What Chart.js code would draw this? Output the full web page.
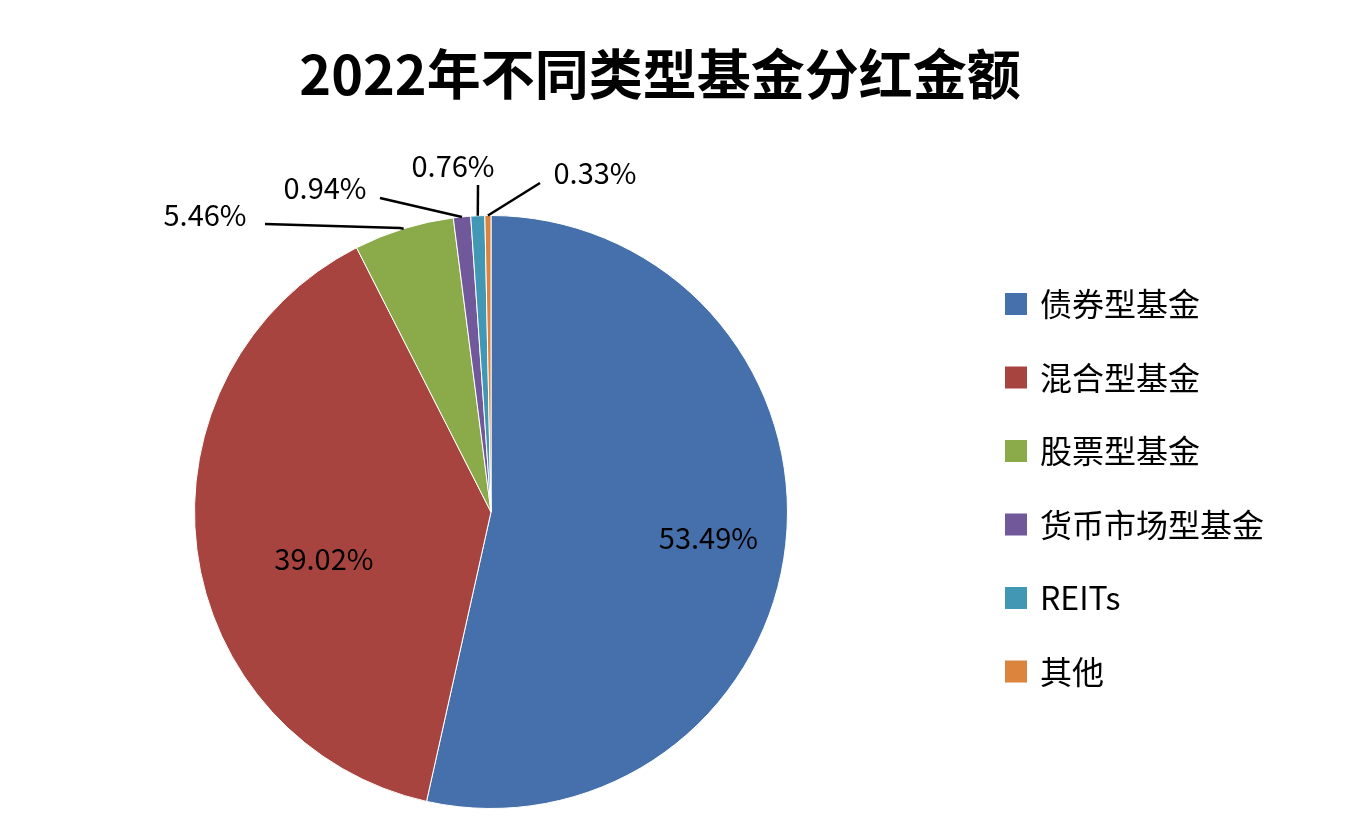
<!DOCTYPE html>
<html lang="zh">
<head>
<meta charset="UTF-8">
<title>2022年不同类型基金分红金额</title>
<script src="https://cdn.jsdelivr.net/npm/chart.js"></script>
<style>
  body { margin: 0; background: #fff; }
</style>
</head>
<body>
<canvas id="pie" width="1348" height="832"></canvas>
<script>
const categories = ['债券型基金', '混合型基金', '股票型基金', '货币市场型基金', 'REITs', '其他'];
const shares = [53.49, 39.02, 5.46, 0.94, 0.76, 0.33];
const colors = ['#4570AB', '#A8443F', '#8BAA4A', '#71589A', '#4298B4', '#DB843D'];

// where the outside labels sit (small slices only)
const outsideLabels = {
  2: { x: 205, y: 215, align: 'center' },
  3: { x: 325, y: 188, align: 'center' },
  4: { x: 453, y: 166, align: 'center' },
  5: { x: 595, y: 173, align: 'center' }
};

const cjk = '"Noto Sans CJK SC", "Noto Sans", sans-serif';

const decor = {
  id: 'decor',
  afterDraw(chart) {
    const ctx = chart.ctx;
    ctx.save();
    // title
    ctx.fillStyle = '#000';
    ctx.textAlign = 'center';
    ctx.textBaseline = 'middle';
    ctx.font = 'bold 54px ' + cjk;
    ctx.fillText('2022年不同类型基金分红金额', 660, 74);

    // slice labels
    const meta = chart.getDatasetMeta(0);
    ctx.font = '29px ' + cjk;
    meta.data.forEach((arc, i) => {
      const text = shares[i].toFixed(2) + '%';
      const out = outsideLabels[i];
      if (!out) {
        const p = arc.tooltipPosition();
        const dx = i === 0 ? 70 : -20;
        ctx.fillStyle = '#000';
        ctx.fillText(text, p.x + dx, p.y + (i === 0 ? 10 : 28));
        return;
      }
      const mid = (arc.startAngle + arc.endAngle) / 2;
      const ex = arc.x + Math.cos(mid) * arc.outerRadius;
      const ey = arc.y + Math.sin(mid) * arc.outerRadius;
      ctx.strokeStyle = '#000';
      ctx.lineWidth = 2.5;
      ctx.beginPath();
      if (i === 2) {
        ctx.moveTo(265, 224); ctx.lineTo(400, 228); ctx.lineTo(ex, ey);
      } else if (i === 3) {
        ctx.moveTo(380, 198); ctx.lineTo(ex, ey);
      } else if (i === 4) {
        ctx.moveTo(478, 185); ctx.lineTo(ex, ey);
      } else {
        ctx.moveTo(540, 183); ctx.lineTo(ex, ey);
      }
      ctx.stroke();
      ctx.fillStyle = '#000';
      ctx.fillText(text, out.x, out.y);
    });

    // legend
    ctx.textAlign = 'left';
    ctx.font = '32px ' + cjk;
    categories.forEach((name, i) => {
      const y = 304 + i * 73.5;
      ctx.fillStyle = colors[i];
      ctx.fillRect(1005, y - 11, 22, 22);
      ctx.fillStyle = '#000';
      ctx.fillText(name, 1040, y);
    });
    ctx.restore();
  }
};

new Chart(document.getElementById('pie'), {
  type: 'pie',
  data: {
    labels: categories,
    datasets: [{
      data: shares,
      backgroundColor: colors,
      borderColor: '#fff',
      borderWidth: 1
    }]
  },
  options: {
    responsive: false,
    animation: false,
    layout: { padding: { left: 194, right: 560, top: 215, bottom: 23 } },
    plugins: { legend: { display: false }, tooltip: { enabled: false } }
  },
  plugins: [decor]
});
</script>
</body>
</html>
